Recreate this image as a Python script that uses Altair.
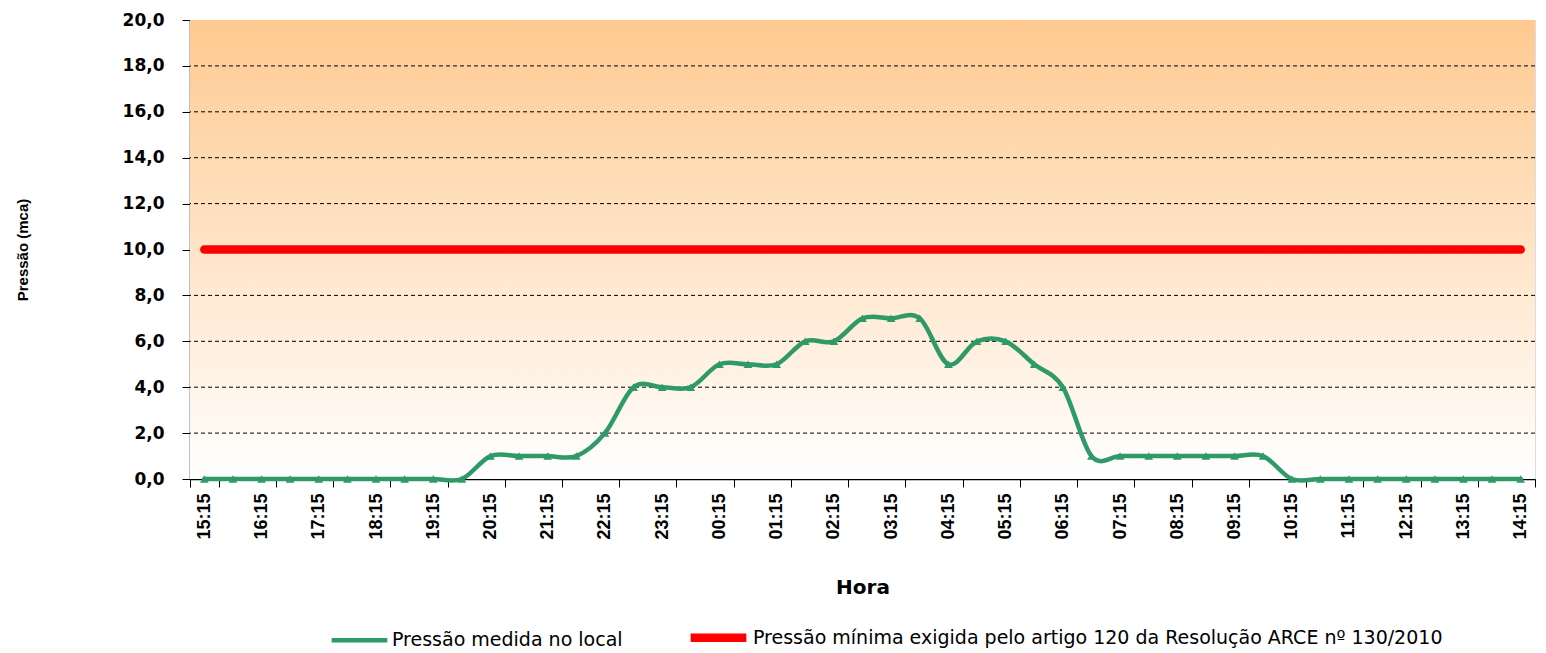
import altair as alt
import pandas as pd

horas = ["15:15", "15:45", "16:15", "16:45", "17:15", "17:45", "18:15", "18:45",
         "19:15", "19:45", "20:15", "20:45", "21:15", "21:45", "22:15", "22:45",
         "23:15", "23:45", "00:15", "00:45", "01:15", "01:45", "02:15", "02:45",
         "03:15", "03:45", "04:15", "04:45", "05:15", "05:45", "06:15", "06:45",
         "07:15", "07:45", "08:15", "08:45", "09:15", "09:45", "10:15", "10:45",
         "11:15", "11:45", "12:15", "12:45", "13:15", "13:45", "14:15"]
pressao = [0, 0, 0, 0, 0, 0, 0, 0, 0, 0,
           1, 1, 1, 1, 2, 4, 4, 4, 5, 5,
           5, 6, 6, 7, 7, 7, 5, 6, 6, 5,
           4, 1, 1, 1, 1, 1, 1, 1, 0, 0,
           0, 0, 0, 0, 0, 0, 0]
minima = [10.0] * len(horas)
y_ticks = [0, 2, 4, 6, 8, 10, 12, 14, 16, 18, 20]
grid_vals = [2, 4, 6, 8, 12, 14, 16, 18]

s1 = "Pressão medida no local"
s2 = "Pressão mínima exigida pelo artigo 120 da Resolução ARCE nº 130/2010"

GREEN = "#2E9A68"
RED = "#FF0000"

df1 = pd.DataFrame({"hora": horas, "valor": pressao, "serie": s1})
df2 = pd.DataFrame({"hora": horas, "valor": minima, "serie": s2})
dfg = pd.DataFrame({"g": grid_vals})
dfbg = pd.DataFrame({"a": [1]})

xscale = alt.Scale(type="band", domain=horas, paddingInner=0, paddingOuter=0)
yscale = alt.Scale(domain=[0, 20], nice=False)

xaxis = alt.Axis(
    values=horas[::2], tickBand="extent", labelAngle=-90, labelFont="Liberation Sans",
    labelFontWeight="bold", labelFontSize=18, labelColor="black", labelPadding=6,
    tickSize=8, tickColor="black", domainColor="black", domainWidth=1.5, grid=False,
    title="Hora", titleFont="DejaVu Sans", titleFontSize=20, titleFontWeight="bold",
    titleColor="black", titlePadding=38,
)
yaxis = alt.Axis(
    values=y_ticks, labelExpr="replace(format(datum.value, '.1f'), '.', ',')",
    labelFont="DejaVu Sans", labelFontWeight="bold", labelFontSize=17, labelColor="black",
    labelPadding=18, tickSize=8, tickColor="black", domainColor="black", domainWidth=1.5,
    grid=False, title="Pressão (mca)", titleFont="Liberation Sans", titleFontSize=15,
    titleFontWeight="bold", titleColor="black", titlePadding=92,
)

legend = alt.Legend(title=None, orient="none", legendX=139, legendY=585,
                    direction="horizontal", symbolType="stroke",
                    symbolSize=3100, labelFont="DejaVu Sans", labelLimit=2000,
                    labelFontSize=19, labelColor="black", labelOffset=2,
                    columnPadding=50)

color = alt.Color("serie:N", scale=alt.Scale(domain=[s1, s2], range=[GREEN, RED]),
                  legend=legend)
width_enc = alt.StrokeWidth("serie:N", scale=alt.Scale(domain=[s1, s2], range=[4.5, 8.5]),
                            legend=legend)

bg = alt.Chart(dfbg).mark_rect(
    color=alt.LinearGradient(gradient="linear", x1=0, y1=0, x2=0, y2=1,
                             stops=[alt.GradientStop(offset=0, color="#FFC990"),
                                    alt.GradientStop(offset=1, color="#FFFFFF")])
).encode(x=alt.value(0), x2=alt.value("width"), y=alt.value(0), y2=alt.value("height"))

grid = alt.Chart(dfg).mark_rule(color="black", strokeDash=[4, 3], strokeWidth=1).encode(
    y=alt.Y("g:Q", scale=yscale, axis=yaxis)
)

red = alt.Chart(df2).mark_line(strokeCap="round").encode(
    x=alt.X("hora:N", scale=xscale, sort=horas, axis=xaxis),
    y=alt.Y("valor:Q", scale=yscale, axis=yaxis),
    color=color, strokeWidth=width_enc,
)

green = alt.Chart(df1).mark_line(
    interpolate="cardinal", strokeCap="round", strokeJoin="round",
    point=alt.OverlayMarkDef(shape="triangle-up", filled=True, size=75, color=GREEN),
).encode(
    x=alt.X("hora:N", scale=xscale, sort=horas, axis=xaxis),
    y=alt.Y("valor:Q", scale=yscale, axis=yaxis),
    color=color, strokeWidth=width_enc,
)

chart = alt.layer(bg, grid, red, green).properties(
    width=1345, height=459,
    padding={"left": 7, "top": 3, "right": 0, "bottom": 0},
).configure_view(stroke="#999999", strokeWidth=1).configure(background="white")

chart.save("out.html", embed_options={"renderer": "svg", "actions": False})
